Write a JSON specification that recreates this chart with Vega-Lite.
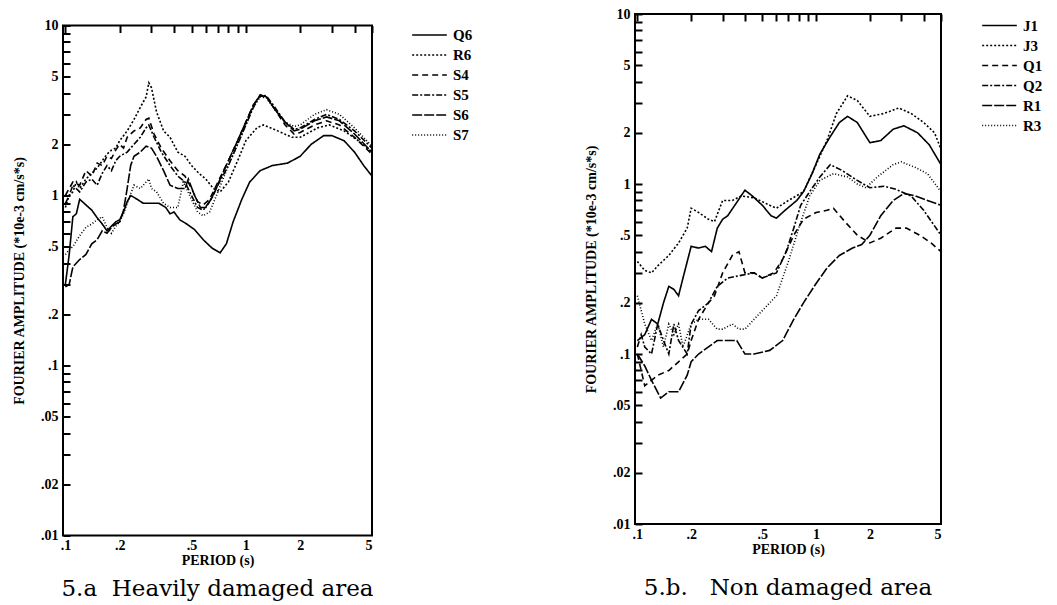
{
  "$schema": "https://vega.github.io/schema/vega-lite/v6.json",
  "background": "white",
  "padding": {"left": 11, "top": 6, "right": 5, "bottom": 2},
  "config": {
    "view": {"stroke": "black", "strokeWidth": 2},
    "axis": {
      "labelFont": "Liberation Serif", "labelFontWeight": "bold", "labelFontSize": 14, "labelColor": "black",
      "titleFont": "Liberation Serif", "titleFontWeight": "bold", "titleFontSize": 14, "titleColor": "black",
      "ticks": false, "domain": false,
      "grid": true, "gridColor": "black", "gridOpacity": 1, "gridWidth": 2, "gridDash": [7, 3000]
    },
    "legend": {
      "orient": "none", "title": null, "symbolType": "M-2,0H2", "symbolSize": 300, "symbolStrokeWidth": 1.6,
      "symbolStrokeColor": "black", "labelFont": "Liberation Serif", "labelFontWeight": "bold",
      "labelFontSize": 15, "labelColor": "black", "rowPadding": 2, "labelOffset": 14
    },
    "title": {"font": "DejaVu Serif", "fontSize": 23, "fontWeight": "normal", "color": "black", "orient": "bottom", "offset": 10}
  },
  "datasets": {
    "left": [
      {"series":"Q6","period":0.1,"amp":0.30},{"series":"Q6","period":0.105,"amp":0.45},{"series":"Q6","period":0.11,"amp":0.75},{"series":"Q6","period":0.115,"amp":0.78},{"series":"Q6","period":0.12,"amp":0.95},{"series":"Q6","period":0.13,"amp":0.88},{"series":"Q6","period":0.14,"amp":0.82},{"series":"Q6","period":0.15,"amp":0.74},{"series":"Q6","period":0.16,"amp":0.68},{"series":"Q6","period":0.17,"amp":0.62},{"series":"Q6","period":0.18,"amp":0.66},{"series":"Q6","period":0.19,"amp":0.70},{"series":"Q6","period":0.2,"amp":0.72},{"series":"Q6","period":0.21,"amp":0.80},{"series":"Q6","period":0.22,"amp":0.92},{"series":"Q6","period":0.23,"amp":1.0},{"series":"Q6","period":0.25,"amp":0.95},{"series":"Q6","period":0.27,"amp":0.90},{"series":"Q6","period":0.3,"amp":0.90},{"series":"Q6","period":0.33,"amp":0.90},{"series":"Q6","period":0.36,"amp":0.85},{"series":"Q6","period":0.38,"amp":0.78},{"series":"Q6","period":0.4,"amp":0.80},{"series":"Q6","period":0.43,"amp":0.72},{"series":"Q6","period":0.47,"amp":0.68},{"series":"Q6","period":0.52,"amp":0.63},{"series":"Q6","period":0.58,"amp":0.55},{"series":"Q6","period":0.65,"amp":0.49},{"series":"Q6","period":0.72,"amp":0.46},{"series":"Q6","period":0.78,"amp":0.52},{"series":"Q6","period":0.85,"amp":0.70},{"series":"Q6","period":0.95,"amp":0.95},{"series":"Q6","period":1.05,"amp":1.2},{"series":"Q6","period":1.2,"amp":1.4},{"series":"Q6","period":1.4,"amp":1.5},{"series":"Q6","period":1.7,"amp":1.55},{"series":"Q6","period":2.0,"amp":1.7},{"series":"Q6","period":2.3,"amp":2.0},{"series":"Q6","period":2.7,"amp":2.25},{"series":"Q6","period":3.0,"amp":2.25},{"series":"Q6","period":3.5,"amp":2.1},{"series":"Q6","period":4.0,"amp":1.8},{"series":"Q6","period":4.5,"amp":1.5},{"series":"Q6","period":5.0,"amp":1.3},
      {"series":"R6","period":0.1,"amp":0.85},{"series":"R6","period":0.105,"amp":1.0},{"series":"R6","period":0.11,"amp":1.05},{"series":"R6","period":0.115,"amp":1.2},{"series":"R6","period":0.12,"amp":1.1},{"series":"R6","period":0.13,"amp":1.25},{"series":"R6","period":0.14,"amp":1.35},{"series":"R6","period":0.15,"amp":1.45},{"series":"R6","period":0.16,"amp":1.6},{"series":"R6","period":0.17,"amp":1.75},{"series":"R6","period":0.18,"amp":1.85},{"series":"R6","period":0.19,"amp":1.9},{"series":"R6","period":0.2,"amp":2.1},{"series":"R6","period":0.22,"amp":2.4},{"series":"R6","period":0.24,"amp":2.8},{"series":"R6","period":0.26,"amp":3.3},{"series":"R6","period":0.28,"amp":3.8},{"series":"R6","period":0.29,"amp":4.6},{"series":"R6","period":0.3,"amp":4.3},{"series":"R6","period":0.32,"amp":3.1},{"series":"R6","period":0.35,"amp":2.4},{"series":"R6","period":0.38,"amp":2.2},{"series":"R6","period":0.42,"amp":1.8},{"series":"R6","period":0.46,"amp":1.7},{"series":"R6","period":0.5,"amp":1.5},{"series":"R6","period":0.55,"amp":1.35},{"series":"R6","period":0.6,"amp":1.25},{"series":"R6","period":0.66,"amp":1.1},{"series":"R6","period":0.72,"amp":1.05},{"series":"R6","period":0.8,"amp":1.2},{"series":"R6","period":0.9,"amp":1.6},{"series":"R6","period":1.0,"amp":2.1},{"series":"R6","period":1.15,"amp":2.5},{"series":"R6","period":1.25,"amp":2.6},{"series":"R6","period":1.5,"amp":2.4},{"series":"R6","period":1.8,"amp":2.2},{"series":"R6","period":2.0,"amp":2.2},{"series":"R6","period":2.5,"amp":2.5},{"series":"R6","period":2.9,"amp":2.6},{"series":"R6","period":3.5,"amp":2.4},{"series":"R6","period":4.2,"amp":2.1},{"series":"R6","period":5.0,"amp":1.8},
      {"series":"S4","period":0.1,"amp":1.0},{"series":"S4","period":0.105,"amp":1.1},{"series":"S4","period":0.11,"amp":1.2},{"series":"S4","period":0.12,"amp":1.15},{"series":"S4","period":0.13,"amp":1.4},{"series":"S4","period":0.14,"amp":1.3},{"series":"S4","period":0.15,"amp":1.55},{"series":"S4","period":0.16,"amp":1.5},{"series":"S4","period":0.17,"amp":1.7},{"series":"S4","period":0.18,"amp":1.65},{"series":"S4","period":0.19,"amp":1.85},{"series":"S4","period":0.2,"amp":2.0},{"series":"S4","period":0.21,"amp":1.9},{"series":"S4","period":0.22,"amp":2.2},{"series":"S4","period":0.24,"amp":2.4},{"series":"S4","period":0.26,"amp":2.5},{"series":"S4","period":0.28,"amp":2.8},{"series":"S4","period":0.29,"amp":2.85},{"series":"S4","period":0.31,"amp":2.3},{"series":"S4","period":0.34,"amp":1.9},{"series":"S4","period":0.38,"amp":1.6},{"series":"S4","period":0.42,"amp":1.4},{"series":"S4","period":0.46,"amp":1.3},{"series":"S4","period":0.5,"amp":1.1},{"series":"S4","period":0.54,"amp":0.92},{"series":"S4","period":0.58,"amp":0.88},{"series":"S4","period":0.63,"amp":0.95},{"series":"S4","period":0.7,"amp":1.2},{"series":"S4","period":0.8,"amp":1.6},{"series":"S4","period":0.9,"amp":2.1},{"series":"S4","period":1.0,"amp":2.7},{"series":"S4","period":1.1,"amp":3.4},{"series":"S4","period":1.2,"amp":3.85},{"series":"S4","period":1.3,"amp":3.8},{"series":"S4","period":1.45,"amp":3.2},{"series":"S4","period":1.65,"amp":2.6},{"series":"S4","period":1.85,"amp":2.3},{"series":"S4","period":2.0,"amp":2.35},{"series":"S4","period":2.4,"amp":2.6},{"series":"S4","period":2.8,"amp":2.75},{"series":"S4","period":3.3,"amp":2.6},{"series":"S4","period":4.0,"amp":2.2},{"series":"S4","period":5.0,"amp":1.75},
      {"series":"S5","period":0.1,"amp":0.9},{"series":"S5","period":0.105,"amp":1.0},{"series":"S5","period":0.11,"amp":1.15},{"series":"S5","period":0.12,"amp":1.05},{"series":"S5","period":0.13,"amp":1.2},{"series":"S5","period":0.14,"amp":1.25},{"series":"S5","period":0.15,"amp":1.15},{"series":"S5","period":0.16,"amp":1.35},{"series":"S5","period":0.17,"amp":1.5},{"series":"S5","period":0.18,"amp":1.4},{"series":"S5","period":0.19,"amp":1.6},{"series":"S5","period":0.2,"amp":1.7},{"series":"S5","period":0.22,"amp":1.8},{"series":"S5","period":0.24,"amp":2.0},{"series":"S5","period":0.26,"amp":2.2},{"series":"S5","period":0.28,"amp":2.5},{"series":"S5","period":0.29,"amp":2.6},{"series":"S5","period":0.31,"amp":2.2},{"series":"S5","period":0.34,"amp":1.8},{"series":"S5","period":0.38,"amp":1.5},{"series":"S5","period":0.42,"amp":1.3},{"series":"S5","period":0.46,"amp":1.2},{"series":"S5","period":0.5,"amp":1.0},{"series":"S5","period":0.54,"amp":0.85},{"series":"S5","period":0.58,"amp":0.82},{"series":"S5","period":0.63,"amp":0.92},{"series":"S5","period":0.7,"amp":1.15},{"series":"S5","period":0.8,"amp":1.5},{"series":"S5","period":0.9,"amp":2.0},{"series":"S5","period":1.0,"amp":2.6},{"series":"S5","period":1.1,"amp":3.3},{"series":"S5","period":1.2,"amp":3.9},{"series":"S5","period":1.3,"amp":3.85},{"series":"S5","period":1.45,"amp":3.3},{"series":"S5","period":1.65,"amp":2.7},{"series":"S5","period":1.85,"amp":2.45},{"series":"S5","period":2.0,"amp":2.5},{"series":"S5","period":2.4,"amp":2.8},{"series":"S5","period":2.8,"amp":3.0},{"series":"S5","period":3.3,"amp":2.8},{"series":"S5","period":4.0,"amp":2.4},{"series":"S5","period":5.0,"amp":1.9},
      {"series":"S6","period":0.1,"amp":0.29},{"series":"S6","period":0.105,"amp":0.30},{"series":"S6","period":0.11,"amp":0.38},{"series":"S6","period":0.12,"amp":0.42},{"series":"S6","period":0.13,"amp":0.45},{"series":"S6","period":0.14,"amp":0.52},{"series":"S6","period":0.15,"amp":0.55},{"series":"S6","period":0.16,"amp":0.62},{"series":"S6","period":0.17,"amp":0.60},{"series":"S6","period":0.18,"amp":0.65},{"series":"S6","period":0.19,"amp":0.68},{"series":"S6","period":0.2,"amp":0.70},{"series":"S6","period":0.21,"amp":0.82},{"series":"S6","period":0.22,"amp":1.1},{"series":"S6","period":0.23,"amp":1.5},{"series":"S6","period":0.24,"amp":1.7},{"series":"S6","period":0.26,"amp":1.8},{"series":"S6","period":0.28,"amp":1.95},{"series":"S6","period":0.3,"amp":1.9},{"series":"S6","period":0.32,"amp":1.7},{"series":"S6","period":0.35,"amp":1.4},{"series":"S6","period":0.38,"amp":1.15},{"series":"S6","period":0.42,"amp":1.1},{"series":"S6","period":0.46,"amp":1.1},{"series":"S6","period":0.48,"amp":1.25},{"series":"S6","period":0.52,"amp":1.0},{"series":"S6","period":0.56,"amp":0.85},{"series":"S6","period":0.6,"amp":0.85},{"series":"S6","period":0.66,"amp":1.0},{"series":"S6","period":0.72,"amp":1.25},{"series":"S6","period":0.8,"amp":1.6},{"series":"S6","period":0.9,"amp":2.1},{"series":"S6","period":1.0,"amp":2.7},{"series":"S6","period":1.1,"amp":3.4},{"series":"S6","period":1.2,"amp":3.9},{"series":"S6","period":1.3,"amp":3.8},{"series":"S6","period":1.45,"amp":3.2},{"series":"S6","period":1.65,"amp":2.7},{"series":"S6","period":1.85,"amp":2.4},{"series":"S6","period":2.0,"amp":2.45},{"series":"S6","period":2.4,"amp":2.75},{"series":"S6","period":2.8,"amp":2.9},{"series":"S6","period":3.3,"amp":2.75},{"series":"S6","period":4.0,"amp":2.3},{"series":"S6","period":5.0,"amp":1.8},
      {"series":"S7","period":0.1,"amp":0.45},{"series":"S7","period":0.105,"amp":0.48},{"series":"S7","period":0.11,"amp":0.50},{"series":"S7","period":0.12,"amp":0.58},{"series":"S7","period":0.13,"amp":0.65},{"series":"S7","period":0.14,"amp":0.68},{"series":"S7","period":0.15,"amp":0.72},{"series":"S7","period":0.16,"amp":0.75},{"series":"S7","period":0.17,"amp":0.65},{"series":"S7","period":0.18,"amp":0.60},{"series":"S7","period":0.19,"amp":0.66},{"series":"S7","period":0.2,"amp":0.70},{"series":"S7","period":0.21,"amp":0.78},{"series":"S7","period":0.22,"amp":0.90},{"series":"S7","period":0.24,"amp":1.15},{"series":"S7","period":0.26,"amp":1.1},{"series":"S7","period":0.28,"amp":1.2},{"series":"S7","period":0.29,"amp":1.25},{"series":"S7","period":0.3,"amp":1.1},{"series":"S7","period":0.32,"amp":1.05},{"series":"S7","period":0.35,"amp":0.9},{"series":"S7","period":0.38,"amp":0.85},{"series":"S7","period":0.42,"amp":0.85},{"series":"S7","period":0.45,"amp":1.2},{"series":"S7","period":0.5,"amp":0.95},{"series":"S7","period":0.54,"amp":0.8},{"series":"S7","period":0.58,"amp":0.76},{"series":"S7","period":0.63,"amp":0.8},{"series":"S7","period":0.7,"amp":1.05},{"series":"S7","period":0.8,"amp":1.5},{"series":"S7","period":0.9,"amp":2.0},{"series":"S7","period":1.0,"amp":2.6},{"series":"S7","period":1.1,"amp":3.3},{"series":"S7","period":1.2,"amp":3.8},{"series":"S7","period":1.3,"amp":3.75},{"series":"S7","period":1.45,"amp":3.2},{"series":"S7","period":1.65,"amp":2.7},{"series":"S7","period":1.85,"amp":2.55},{"series":"S7","period":2.0,"amp":2.6},{"series":"S7","period":2.4,"amp":3.0},{"series":"S7","period":2.8,"amp":3.2},{"series":"S7","period":3.3,"amp":3.0},{"series":"S7","period":4.0,"amp":2.5},{"series":"S7","period":5.0,"amp":1.95}
    ],
    "right": [
      {"series":"J1","period":0.1,"amp":0.12},{"series":"J1","period":0.11,"amp":0.13},{"series":"J1","period":0.12,"amp":0.16},{"series":"J1","period":0.13,"amp":0.15},{"series":"J1","period":0.14,"amp":0.2},{"series":"J1","period":0.15,"amp":0.25},{"series":"J1","period":0.16,"amp":0.24},{"series":"J1","period":0.17,"amp":0.22},{"series":"J1","period":0.18,"amp":0.28},{"series":"J1","period":0.2,"amp":0.43},{"series":"J1","period":0.22,"amp":0.42},{"series":"J1","period":0.24,"amp":0.43},{"series":"J1","period":0.26,"amp":0.40},{"series":"J1","period":0.28,"amp":0.55},{"series":"J1","period":0.3,"amp":0.62},{"series":"J1","period":0.32,"amp":0.65},{"series":"J1","period":0.36,"amp":0.78},{"series":"J1","period":0.4,"amp":0.92},{"series":"J1","period":0.44,"amp":0.85},{"series":"J1","period":0.5,"amp":0.75},{"series":"J1","period":0.56,"amp":0.65},{"series":"J1","period":0.6,"amp":0.63},{"series":"J1","period":0.67,"amp":0.7},{"series":"J1","period":0.78,"amp":0.8},{"series":"J1","period":0.85,"amp":0.9},{"series":"J1","period":0.95,"amp":1.15},{"series":"J1","period":1.05,"amp":1.5},{"series":"J1","period":1.2,"amp":1.9},{"series":"J1","period":1.35,"amp":2.3},{"series":"J1","period":1.5,"amp":2.5},{"series":"J1","period":1.7,"amp":2.3},{"series":"J1","period":2.0,"amp":1.75},{"series":"J1","period":2.3,"amp":1.8},{"series":"J1","period":2.7,"amp":2.1},{"series":"J1","period":3.1,"amp":2.2},{"series":"J1","period":3.7,"amp":2.0},{"series":"J1","period":4.3,"amp":1.7},{"series":"J1","period":5.0,"amp":1.3},
      {"series":"J3","period":0.1,"amp":0.35},{"series":"J3","period":0.11,"amp":0.31},{"series":"J3","period":0.12,"amp":0.30},{"series":"J3","period":0.13,"amp":0.33},{"series":"J3","period":0.15,"amp":0.38},{"series":"J3","period":0.17,"amp":0.45},{"series":"J3","period":0.19,"amp":0.55},{"series":"J3","period":0.2,"amp":0.72},{"series":"J3","period":0.22,"amp":0.68},{"series":"J3","period":0.25,"amp":0.62},{"series":"J3","period":0.27,"amp":0.6},{"series":"J3","period":0.3,"amp":0.8},{"series":"J3","period":0.34,"amp":0.8},{"series":"J3","period":0.38,"amp":0.85},{"series":"J3","period":0.45,"amp":0.83},{"series":"J3","period":0.55,"amp":0.75},{"series":"J3","period":0.6,"amp":0.72},{"series":"J3","period":0.7,"amp":0.8},{"series":"J3","period":0.85,"amp":0.9},{"series":"J3","period":1.0,"amp":1.3},{"series":"J3","period":1.15,"amp":1.8},{"series":"J3","period":1.3,"amp":2.6},{"series":"J3","period":1.5,"amp":3.3},{"series":"J3","period":1.7,"amp":3.1},{"series":"J3","period":2.0,"amp":2.5},{"series":"J3","period":2.4,"amp":2.6},{"series":"J3","period":2.9,"amp":2.8},{"series":"J3","period":3.4,"amp":2.6},{"series":"J3","period":4.0,"amp":2.3},{"series":"J3","period":4.6,"amp":2.0},{"series":"J3","period":5.0,"amp":1.6},
      {"series":"Q1","period":0.1,"amp":0.1},{"series":"Q1","period":0.11,"amp":0.065},{"series":"Q1","period":0.13,"amp":0.075},{"series":"Q1","period":0.15,"amp":0.08},{"series":"Q1","period":0.17,"amp":0.09},{"series":"Q1","period":0.19,"amp":0.1},{"series":"Q1","period":0.2,"amp":0.12},{"series":"Q1","period":0.22,"amp":0.16},{"series":"Q1","period":0.25,"amp":0.2},{"series":"Q1","period":0.27,"amp":0.22},{"series":"Q1","period":0.3,"amp":0.3},{"series":"Q1","period":0.34,"amp":0.38},{"series":"Q1","period":0.37,"amp":0.4},{"series":"Q1","period":0.4,"amp":0.3},{"series":"Q1","period":0.45,"amp":0.3},{"series":"Q1","period":0.5,"amp":0.28},{"series":"Q1","period":0.58,"amp":0.3},{"series":"Q1","period":0.65,"amp":0.36},{"series":"Q1","period":0.75,"amp":0.5},{"series":"Q1","period":0.85,"amp":0.62},{"series":"Q1","period":1.0,"amp":0.68},{"series":"Q1","period":1.15,"amp":0.7},{"series":"Q1","period":1.25,"amp":0.72},{"series":"Q1","period":1.45,"amp":0.6},{"series":"Q1","period":1.7,"amp":0.5},{"series":"Q1","period":2.0,"amp":0.45},{"series":"Q1","period":2.3,"amp":0.48},{"series":"Q1","period":2.8,"amp":0.55},{"series":"Q1","period":3.2,"amp":0.55},{"series":"Q1","period":3.8,"amp":0.5},{"series":"Q1","period":4.4,"amp":0.45},{"series":"Q1","period":5.0,"amp":0.4},
      {"series":"Q2","period":0.1,"amp":0.11},{"series":"Q2","period":0.105,"amp":0.13},{"series":"Q2","period":0.11,"amp":0.11},{"series":"Q2","period":0.12,"amp":0.1},{"series":"Q2","period":0.13,"amp":0.15},{"series":"Q2","period":0.14,"amp":0.12},{"series":"Q2","period":0.15,"amp":0.1},{"series":"Q2","period":0.16,"amp":0.15},{"series":"Q2","period":0.17,"amp":0.12},{"series":"Q2","period":0.19,"amp":0.1},{"series":"Q2","period":0.2,"amp":0.15},{"series":"Q2","period":0.22,"amp":0.18},{"series":"Q2","period":0.25,"amp":0.2},{"series":"Q2","period":0.28,"amp":0.25},{"series":"Q2","period":0.32,"amp":0.28},{"series":"Q2","period":0.38,"amp":0.29},{"series":"Q2","period":0.45,"amp":0.3},{"series":"Q2","period":0.5,"amp":0.28},{"series":"Q2","period":0.6,"amp":0.3},{"series":"Q2","period":0.68,"amp":0.4},{"series":"Q2","period":0.75,"amp":0.55},{"series":"Q2","period":0.82,"amp":0.75},{"series":"Q2","period":0.92,"amp":0.9},{"series":"Q2","period":1.05,"amp":1.1},{"series":"Q2","period":1.2,"amp":1.3},{"series":"Q2","period":1.4,"amp":1.2},{"series":"Q2","period":1.7,"amp":1.05},{"series":"Q2","period":2.0,"amp":0.95},{"series":"Q2","period":2.4,"amp":0.97},{"series":"Q2","period":2.8,"amp":0.93},{"series":"Q2","period":3.4,"amp":0.85},{"series":"Q2","period":4.0,"amp":0.7},{"series":"Q2","period":5.0,"amp":0.5},
      {"series":"R1","period":0.1,"amp":0.1},{"series":"R1","period":0.11,"amp":0.085},{"series":"R1","period":0.12,"amp":0.07},{"series":"R1","period":0.135,"amp":0.055},{"series":"R1","period":0.15,"amp":0.06},{"series":"R1","period":0.17,"amp":0.06},{"series":"R1","period":0.19,"amp":0.075},{"series":"R1","period":0.2,"amp":0.09},{"series":"R1","period":0.22,"amp":0.1},{"series":"R1","period":0.25,"amp":0.11},{"series":"R1","period":0.28,"amp":0.12},{"series":"R1","period":0.32,"amp":0.12},{"series":"R1","period":0.36,"amp":0.12},{"series":"R1","period":0.4,"amp":0.1},{"series":"R1","period":0.45,"amp":0.1},{"series":"R1","period":0.55,"amp":0.105},{"series":"R1","period":0.65,"amp":0.12},{"series":"R1","period":0.75,"amp":0.16},{"series":"R1","period":0.85,"amp":0.2},{"series":"R1","period":1.0,"amp":0.26},{"series":"R1","period":1.15,"amp":0.32},{"series":"R1","period":1.35,"amp":0.38},{"series":"R1","period":1.6,"amp":0.42},{"series":"R1","period":1.8,"amp":0.44},{"series":"R1","period":2.0,"amp":0.5},{"series":"R1","period":2.3,"amp":0.65},{"series":"R1","period":2.7,"amp":0.8},{"series":"R1","period":3.1,"amp":0.88},{"series":"R1","period":3.6,"amp":0.85},{"series":"R1","period":4.2,"amp":0.8},{"series":"R1","period":5.0,"amp":0.75},
      {"series":"R3","period":0.1,"amp":0.22},{"series":"R3","period":0.11,"amp":0.15},{"series":"R3","period":0.12,"amp":0.12},{"series":"R3","period":0.13,"amp":0.15},{"series":"R3","period":0.14,"amp":0.11},{"series":"R3","period":0.15,"amp":0.15},{"series":"R3","period":0.16,"amp":0.13},{"series":"R3","period":0.17,"amp":0.15},{"series":"R3","period":0.18,"amp":0.11},{"series":"R3","period":0.2,"amp":0.15},{"series":"R3","period":0.22,"amp":0.16},{"series":"R3","period":0.25,"amp":0.16},{"series":"R3","period":0.28,"amp":0.14},{"series":"R3","period":0.3,"amp":0.14},{"series":"R3","period":0.34,"amp":0.15},{"series":"R3","period":0.37,"amp":0.14},{"series":"R3","period":0.4,"amp":0.14},{"series":"R3","period":0.45,"amp":0.16},{"series":"R3","period":0.5,"amp":0.18},{"series":"R3","period":0.6,"amp":0.22},{"series":"R3","period":0.7,"amp":0.35},{"series":"R3","period":0.8,"amp":0.55},{"series":"R3","period":0.92,"amp":0.85},{"series":"R3","period":1.05,"amp":1.05},{"series":"R3","period":1.25,"amp":1.15},{"series":"R3","period":1.5,"amp":1.1},{"series":"R3","period":1.7,"amp":1.0},{"series":"R3","period":1.9,"amp":0.95},{"series":"R3","period":2.2,"amp":1.1},{"series":"R3","period":2.7,"amp":1.3},{"series":"R3","period":3.0,"amp":1.35},{"series":"R3","period":3.6,"amp":1.25},{"series":"R3","period":4.2,"amp":1.15},{"series":"R3","period":5.0,"amp":0.9}
    ]
  },
  "spacing": 91,
  "center": true,
  "resolve": {"scale": {"strokeDash": "independent"}, "legend": {"strokeDash": "independent"}},
  "hconcat": [
    {
      "width": 309, "height": 510,
      "data": {"name": "left"},
      "title": {"text": "5.a\u00a0\u00a0Heavily damaged area"},
      "layer": [
        {
          "mark": {"type": "line", "color": "black", "strokeWidth": 1.6},
          "encoding": {
            "x": {"field": "period", "type": "quantitative", "scale": {"type": "log", "domain": [0.097, 5], "nice": false},
              "axis": {"values": [0.1,0.2,0.3,0.4,0.5,0.6,0.7,0.8,0.9,1,2,3,4,5], "format": "~g",
                "labelExpr": "indexof([0.1,0.2,0.5,1,2,5], datum.value) >= 0 ? replace(datum.label, '0.', '.') : ''",
                "title": "PERIOD (s)", "labelPadding": 3, "titlePadding": 1}},
            "y": {"field": "amp", "type": "quantitative", "scale": {"type": "log", "domain": [0.01, 10], "nice": false},
              "axis": {"values": [0.01,0.02,0.03,0.04,0.05,0.06,0.07,0.08,0.09,0.1,0.2,0.3,0.4,0.5,0.6,0.7,0.8,0.9,1,2,3,4,5,6,7,8,9,10], "format": "~g",
                "labelExpr": "indexof([10,5,2,1,0.5,0.2,0.1,0.05,0.02,0.01], datum.value) >= 0 ? replace(datum.label, '0.', '.') : ''",
                "title": "FOURIER AMPLITUDE  (*10e-3 cm/s*s)", "labelPadding": 5, "titlePadding": 14}},
            "strokeDash": {"field": "series", "type": "nominal",
              "scale": {"domain": ["Q6","R6","S4","S5","S6","S7"], "range": [[1,0],[2,2],[6,4],[6,2,2,2],[10,2],[1,2]]},
              "legend": {"legendX": 339, "legendY": -18, "padding": 18, "fillColor": "white"}}
          }
        },
        {
          "mark": {"type": "line", "opacity": 0},
          "encoding": {
            "x": {"field": "period", "type": "quantitative", "scale": {"type": "log", "domain": [0.097, 5], "nice": false},
              "axis": {"orient": "top", "values": [0.1,0.2,0.3,0.4,0.5,0.6,0.7,0.8,0.9,1,2,3,4,5], "labels": false, "title": null}},
            "y": {"field": "amp", "type": "quantitative", "scale": {"type": "log", "domain": [0.01, 10], "nice": false},
              "axis": {"orient": "right", "values": [0.01,0.02,0.03,0.04,0.05,0.06,0.07,0.08,0.09,0.1,0.2,0.3,0.4,0.5,0.6,0.7,0.8,0.9,1,2,3,4,5,6,7,8,9,10], "labels": false, "title": null}},
            "detail": {"field": "series"}
          }
        }
      ],
      "resolve": {"axis": {"x": "independent", "y": "independent"}}
    },
    {
      "width": 306, "height": 510,
      "data": {"name": "right"},
      "title": {"text": ["5.b.\u00a0\u00a0\u00a0Non damaged area", ""], "offset": 21, "lineHeight": 12},
      "layer": [
        {
          "mark": {"type": "line", "color": "black", "strokeWidth": 1.6},
          "encoding": {
            "x": {"field": "period", "type": "quantitative", "scale": {"type": "log", "domain": [0.097, 5], "nice": false},
              "axis": {"values": [0.1,0.2,0.3,0.4,0.5,0.6,0.7,0.8,0.9,1,2,3,4,5], "format": "~g",
                "labelExpr": "indexof([0.1,0.2,0.5,1,2,5], datum.value) >= 0 ? replace(datum.label, '0.', '.') : ''",
                "title": "PERIOD (s)", "labelPadding": 3, "titlePadding": 1}},
            "y": {"field": "amp", "type": "quantitative", "scale": {"type": "log", "domain": [0.01, 10], "nice": false},
              "axis": {"values": [0.01,0.02,0.03,0.04,0.05,0.06,0.07,0.08,0.09,0.1,0.2,0.3,0.4,0.5,0.6,0.7,0.8,0.9,1,2,3,4,5,6,7,8,9,10], "format": "~g",
                "labelExpr": "indexof([10,5,2,1,0.5,0.2,0.1,0.05,0.02,0.01], datum.value) >= 0 ? replace(datum.label, '0.', '.') : ''",
                "title": "FOURIER AMPLITUDE  (*10e-3 cm/s*s)", "labelPadding": 5, "titlePadding": 14}},
            "strokeDash": {"field": "series", "type": "nominal",
              "scale": {"domain": ["J1","J3","Q1","Q2","R1","R3"], "range": [[1,0],[2,2],[6,4],[6,2,2,2],[10,2],[1,2]]},
              "legend": {"legendX": 355, "legendY": 2, "padding": 0}}
          }
        },
        {
          "mark": {"type": "line", "opacity": 0},
          "encoding": {
            "x": {"field": "period", "type": "quantitative", "scale": {"type": "log", "domain": [0.097, 5], "nice": false},
              "axis": {"orient": "top", "values": [0.1,0.2,0.3,0.4,0.5,0.6,0.7,0.8,0.9,1,2,3,4,5], "labels": false, "title": null}},
            "y": {"field": "amp", "type": "quantitative", "scale": {"type": "log", "domain": [0.01, 10], "nice": false},
              "axis": {"orient": "right", "values": [0.01,0.02,0.03,0.04,0.05,0.06,0.07,0.08,0.09,0.1,0.2,0.3,0.4,0.5,0.6,0.7,0.8,0.9,1,2,3,4,5,6,7,8,9,10], "labels": false, "title": null}},
            "detail": {"field": "series"}
          }
        }
      ],
      "resolve": {"axis": {"x": "independent", "y": "independent"}}
    }
  ]
}
